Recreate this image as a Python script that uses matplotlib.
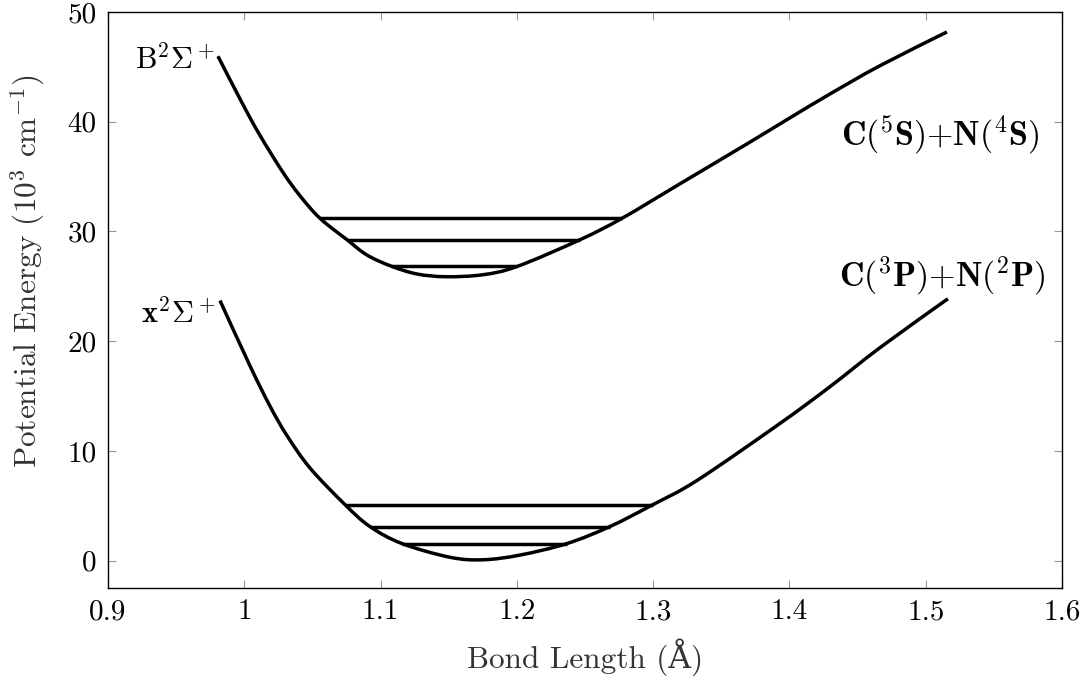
import matplotlib
matplotlib.use("Agg")
import matplotlib.pyplot as plt
from matplotlib.path import Path
from matplotlib.patches import PathPatch

plt.rcParams['font.family'] = ['cmr10', 'DejaVu Serif']
plt.rcParams['mathtext.fontset'] = 'cm'
plt.rcParams['axes.unicode_minus'] = False
plt.rcParams['axes.formatter.use_mathtext'] = True

# Upper state B2Sigma+
upper_x = [0.9807, 0.9991, 1.0115, 1.0284, 1.0409, 1.0556, 1.0754, 1.0900,
           1.1075, 1.1267, 1.1480, 1.1750, 1.2001, 1.2463, 1.2771, 1.3197,
           1.3689, 1.4004, 1.4298, 1.4664, 1.5156]
upper_y = [45.97, 41.55, 38.76, 35.38, 33.25, 31.19, 29.24, 27.85,
           26.85, 26.12, 25.87, 26.05, 26.80, 29.24, 31.19, 34.34,
           37.98, 40.35, 42.53, 45.10, 48.18]
upper_levels_y = [31.19, 29.24, 26.85]
upper_levels_x0 = [1.0556, 1.0754, 1.1075]
upper_levels_x1 = [1.2771, 1.2463, 1.2001]

# Lower state X2Sigma+
lower_x = [0.9822, 1.0042, 1.0189, 1.0313, 1.0482, 1.0739, 1.0922, 1.1157,
           1.1509, 1.1751, 1.2023, 1.2368, 1.2683, 1.2999, 1.3322, 1.3931,
           1.4298, 1.4664, 1.5163]
lower_y = [23.70, 17.75, 14.07, 11.40, 8.44, 5.10, 3.10, 1.55,
           0.30, 0.07, 0.50, 1.55, 3.10, 5.10, 7.30, 12.50,
           15.85, 19.40, 23.86]
lower_levels_y = [5.10, 3.10, 1.55]
lower_levels_x0 = [1.0739, 1.0922, 1.1157]
lower_levels_x1 = [1.2999, 1.2683, 1.2368]

xticks = [0.9, 1.0, 1.1, 1.2, 1.3, 1.4, 1.5, 1.6]
xtick_labels = ['0.9', '1', '1.1', '1.2', '1.3', '1.4', '1.5', '1.6']
yticks = [0, 10, 20, 30, 40, 50]
ytick_labels = ['0', '10', '20', '30', '40', '50']


def smooth_path(xs, ys):
    """Catmull-Rom style smooth curve through the given points (like pgfplots 'smooth')."""
    pts = list(zip(xs, ys))
    n = len(pts)
    verts = [pts[0]]
    codes = [Path.MOVETO]
    for i in range(n - 1):
        p0 = pts[i - 1] if i > 0 else pts[i]
        p1 = pts[i]
        p2 = pts[i + 1]
        p3 = pts[i + 2] if i + 2 < n else pts[i + 1]
        c1 = (p1[0] + (p2[0] - p0[0]) / 6.0, p1[1] + (p2[1] - p0[1]) / 6.0)
        c2 = (p2[0] - (p3[0] - p1[0]) / 6.0, p2[1] - (p3[1] - p1[1]) / 6.0)
        verts += [c1, c2, p2]
        codes += [Path.CURVE4, Path.CURVE4, Path.CURVE4]
    return Path(verts, codes)


fig = plt.figure(figsize=(10.84, 6.81), dpi=100)
ax = fig.add_axes([0.0996, 0.1366, 0.9797 - 0.0996, 0.9824 - 0.1366])

lw = 2.5
for xs, ys in [(upper_x, upper_y), (lower_x, lower_y)]:
    ax.add_patch(PathPatch(smooth_path(xs, ys), facecolor='none', edgecolor='black',
                           lw=lw, capstyle='butt', joinstyle='round'))
ax.hlines(upper_levels_y, upper_levels_x0, upper_levels_x1, color='black', lw=lw)
ax.hlines(lower_levels_y, lower_levels_x0, lower_levels_x1, color='black', lw=lw)

ax.set_xlim(0.9, 1.6)
ax.set_ylim(-2.5, 50)
ax.set_xticks(xticks)
ax.set_xticklabels(xtick_labels)
ax.set_yticks(yticks)
ax.set_yticklabels(ytick_labels)
ax.tick_params(direction='in', top=True, right=True, length=6, width=0.8,
               color='#999999', labelsize=21, pad=8)
for s in ax.spines.values():
    s.set_linewidth(1.0)

ax.set_xlabel('Bond Length (Å)', fontsize=22.5, color='#333333', labelpad=9)
ax.set_ylabel(r'Potential Energy (10$^{3}$ cm$^{\mathsf{-}1}$)', fontsize=22.5,
              color='#333333')
ax.yaxis.set_label_coords(-0.064, 0.55)

ax.text(0.9790, 45.7, r'$\mathrm{B}^2\Sigma^+$', fontsize=22, ha='right', va='center')
ax.text(0.9790, 22.5, r'$\mathbf{x}^2\Sigma^+$', fontsize=22, ha='right', va='center')
ax.text(1.5105, 38.8, r'$\mathbf{C(}^{5}\mathbf{S){+}N(}^{4}\mathbf{S)}$', fontsize=24.5,
        ha='center', va='center')
ax.text(1.5123, 26.0, r'$\mathbf{C(}^{3}\mathbf{P){+}N(}^{2}\mathbf{P)}$', fontsize=24.5,
        ha='center', va='center')

fig.savefig('out.png', dpi=100)
